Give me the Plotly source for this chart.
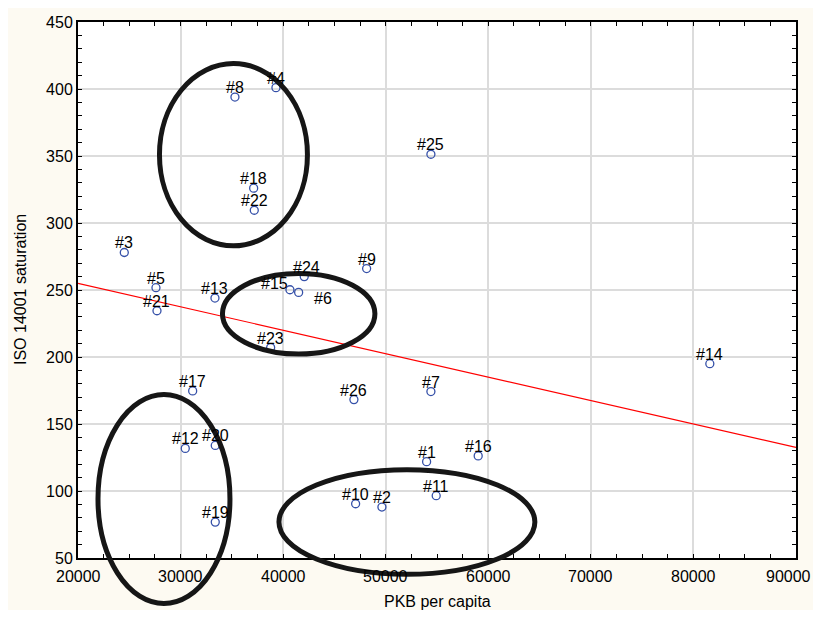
import plotly.graph_objects as go

# ---- data ----
labels = ["#1", "#2", "#3", "#4", "#5", "#6", "#7", "#8", "#9", "#10", "#11", "#12", "#13",
          "#14", "#15", "#16", "#17", "#18", "#19", "#20", "#21", "#22", "#23", "#24", "#25", "#26"]
pkb = [53986, 49630, 24513, 39298, 27602, 41511, 54405, 35302, 48138, 47066, 54922, 30458, 33353,
       81598, 40663, 59016, 31179, 37125, 33382, 33382, 27700, 37185, 38782, 42057, 54405, 46900]
iso = [121.9, 88.0, 278.0, 401.0, 251.7, 248.2, 174.2, 394.0, 266.0, 90.5, 96.5, 131.8, 244.0,
       195.0, 250.2, 126.2, 174.7, 326.0, 76.8, 134.0, 234.5, 309.5, 207.0, 260.0, 351.3, 168.2]

fit_x = [20000, 90000]
fit_y = [255.0, 132.5]

x_ticks = [20000, 30000, 40000, 50000, 60000, 70000, 80000, 90000]
y_ticks = [50, 100, 150, 200, 250, 300, 350, 400, 450]

# hand-drawn ellipses (data units: x0, x1, y0, y1)
ellipses = [
    (27943, 42368, 283.0, 419.0),
    (34084, 48947, 202.2, 262.4),
    (21949, 34815, 16.1, 172.0),
    (39591, 64542, 37.8, 115.9),
]

# ---- styles ----
FONT = "Liberation Sans, Arial, sans-serif"
FS = 16
CREAM = "#fdfaf2"
XR = (20000, 90000)
YR = (50, 450)
W, H = 805, 602
ML, MR, MT, MB = 70, 17, 14, 52
label_shift = {"#6": (24, -6), "#15": (-15, 6.6), "#24": (2, 9.5)}
default_shift = (0, 9.5)

fig = go.Figure()

fig.add_trace(go.Scatter(
    x=fit_x, y=fit_y, mode="lines",
    line=dict(color="#ff0000", width=1.2),
    showlegend=False, hoverinfo="skip"))

fig.add_trace(go.Scatter(
    x=pkb, y=iso, mode="markers",
    marker=dict(symbol="circle-open", size=8, color="#3550a8", line=dict(width=1.3, color="#3550a8")),
    showlegend=False))

annotations = []
for lab, xv, yv in zip(labels, pkb, iso):
    dx, dy = label_shift.get(lab, default_shift)
    annotations.append(dict(
        x=xv, y=yv, xref="x", yref="y", text=lab, showarrow=False,
        xanchor="center", yanchor="middle", xshift=dx, yshift=dy,
        font=dict(family=FONT, size=FS, color="black")))

# x tick labels (last one kept inside the page edge)
for i, v in enumerate(x_ticks):
    last = i == len(x_ticks) - 1
    annotations.append(dict(
        x=v, y=0, xref="x", yref="paper", text=str(v), showarrow=False,
        xanchor="right" if last else "center", yanchor="middle",
        xshift=MR if last else 0, yshift=-18.5,
        font=dict(family=FONT, size=FS, color="black")))

annotations.append(dict(
    x=0.5, y=0, xref="paper", yref="paper", text="PKB per capita", showarrow=False,
    xanchor="center", yanchor="middle", yshift=-43,
    font=dict(family=FONT, size=FS, color="black")))
annotations.append(dict(
    x=0, y=0.5, xref="paper", yref="paper", text="ISO 14001 saturation", showarrow=False,
    textangle=-90, xanchor="center", yanchor="middle", xshift=-58,
    font=dict(family=FONT, size=FS, color="black")))

shapes = []
for x0, x1, y0, y1 in ellipses:
    shapes.append(dict(
        type="circle", xref="x domain", yref="y domain",
        x0=(x0 - XR[0]) / (XR[1] - XR[0]), x1=(x1 - XR[0]) / (XR[1] - XR[0]),
        y0=(y0 - YR[0]) / (YR[1] - YR[0]), y1=(y1 - YR[0]) / (YR[1] - YR[0]),
        line=dict(color="#161616", width=5), layer="above"))

axis_common = dict(
    showline=True, linecolor="black", linewidth=2, mirror="ticks",
    ticks="inside", ticklen=4, tickcolor="black", tickwidth=1,
    showgrid=True, gridcolor="#dcdcdc", gridwidth=1.5, zeroline=False,
    tickfont=dict(family=FONT, size=FS, color="black"),
    automargin=False,
)

fig.update_xaxes(range=list(XR), tickmode="array", tickvals=x_ticks, showticklabels=False,
                 minor=dict(ticks="inside", ticklen=4, tickcolor="black", dtick=2500, showgrid=False),
                 **axis_common)
fig.update_yaxes(range=list(YR), tickmode="array", tickvals=y_ticks,
                 ticktext=[str(v) for v in y_ticks],
                 minor=dict(ticks="inside", ticklen=4, tickcolor="black", dtick=10, showgrid=False),
                 **axis_common)

# the page body keeps its default 8px margin; the figure fills the rest of the 821x618 window
fig.update_layout(
    width=W, height=H,
    margin=dict(l=ML, r=MR, t=MT, b=MB, autoexpand=False),
    paper_bgcolor=CREAM, plot_bgcolor="white",
    annotations=annotations, shapes=shapes,
    font=dict(family=FONT, size=FS, color="black"),
)

fig.write_html("out.html")
